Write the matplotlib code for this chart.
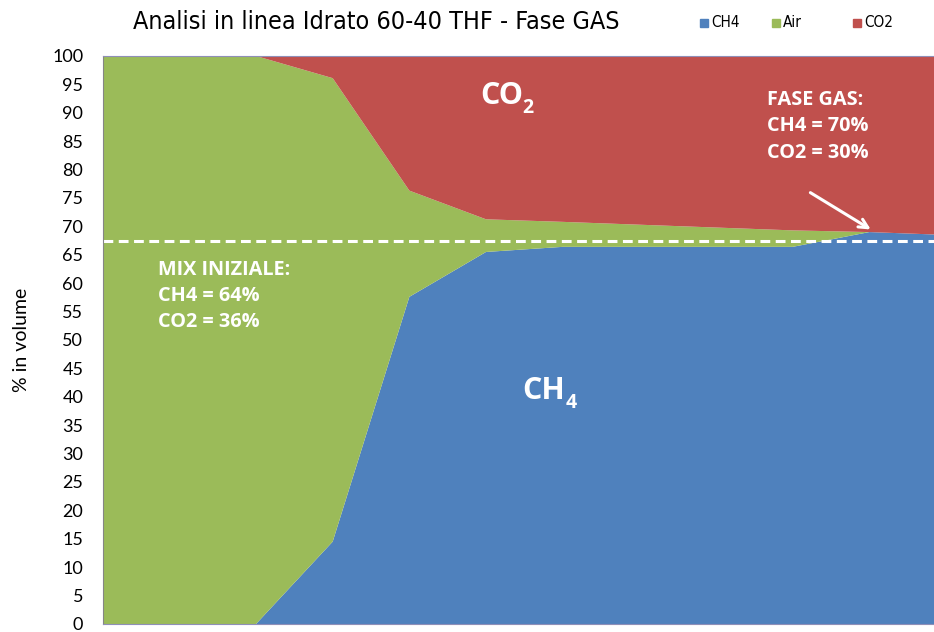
import matplotlib.pyplot as plt
import numpy as np

# composition of the gas phase along the run (% in volume)
steps = list(range(12))
ch4 = [0, 0, 0, 14.5, 57.6, 65.5, 66.4, 66.4, 66.4, 66.4, 69.0, 68.5]
air = [100, 100, 100, 81.6, 18.7, 5.75, 4.4, 3.9, 3.4, 2.9, 0, 0]
co2 = [0, 0, 0, 3.9, 23.7, 28.75, 29.2, 29.7, 30.2, 30.7, 31.0, 31.5]
series_names = ['CH4', 'Air', 'CO2']
colors = ['#4F81BD', '#9BBB59', '#C0504D']
initial_ch4_line = 67.4
mix_notes = ['MIX INIZIALE:', 'CH4 = 64%', 'CO2 = 36%']
gas_notes = ['FASE GAS:', 'CH4 = 70%', 'CO2 = 30%']

W, H = 934, 632
fig = plt.figure(figsize=(W / 100, H / 100), dpi=100)
# plot area runs past the right border of the image
ax = fig.add_axes([102.7 / W, 8 / H, (946 - 102.7) / W, (624 - 56) / H])

ax.stackplot(steps, ch4, air, co2, colors=colors, labels=series_names)
ax.set_xlim(0, 11)
ax.set_ylim(0, 100)
ax.set_xticks([])
ax.set_yticks(np.arange(0, 101, 5))
ax.tick_params(axis='y', length=0, pad=14, labelsize=13, labelcolor='#000000')
for lab in ax.get_yticklabels():
    lab.set_family('Lato')
ax.set_ylabel('% in volume', fontsize=14, family='Lato', labelpad=16)

ax.spines['left'].set_color('#868686')
for s in ['top', 'bottom']:
    ax.spines[s].set_color('#8F8FB8')
ax.spines['right'].set_visible(False)

# dashed line at the initial mix level
ax.axhline(initial_ch4_line, color='white', lw=2.2, dashes=(3.2, 1.8))

bold = dict(color='white', fontweight='bold', family='Open Sans')

# big series labels with hand placed subscripts
ax.text(4.92, 93.0, 'CO', fontsize=22, ha='left', va='center', **bold)
ax.text(5.47, 90.8, '2', fontsize=14, ha='left', va='center', **bold)
ax.text(5.47, 41.1, 'CH', fontsize=22, ha='left', va='center', **bold)
ax.text(6.04, 38.9, '4', fontsize=14, ha='left', va='center', **bold)

# notes
for i, line in enumerate(mix_notes):
    ax.text(0.72, 62.4 - 4.65 * i, line, fontsize=14.3, ha='left',
            va='center', **bold)
for i, line in enumerate(gas_notes):
    ax.text(8.67, 92.2 - 4.6 * i, line, fontsize=14.3, ha='left',
            va='center', **bold)
ax.annotate('', xy=(10.05, 69.2), xytext=(9.2, 76.2),
            arrowprops=dict(arrowstyle='->', color='white', lw=2.2,
                            mutation_scale=16))

fig.text(376 / W, 1 - 22 / H, 'Analisi in linea Idrato 60-40 THF - Fase GAS',
         fontsize=18, family='DejaVu Sans', fontstretch='condensed',
         ha='center', va='center')

# legend drawn as squares + labels
leg_x = [700, 772, 853]
for xp, name, c in zip(leg_x, series_names, colors):
    fig.patches.append(plt.Rectangle((xp / W, 1 - 27 / H), 8 / W, 8 / H,
                                     transform=fig.transFigure, color=c))
    fig.text((xp + 11) / W, 1 - 22.5 / H, name, fontsize=11,
             family='DejaVu Sans', fontstretch='condensed',
             ha='left', va='center')

fig.savefig('out.png', dpi=100)
